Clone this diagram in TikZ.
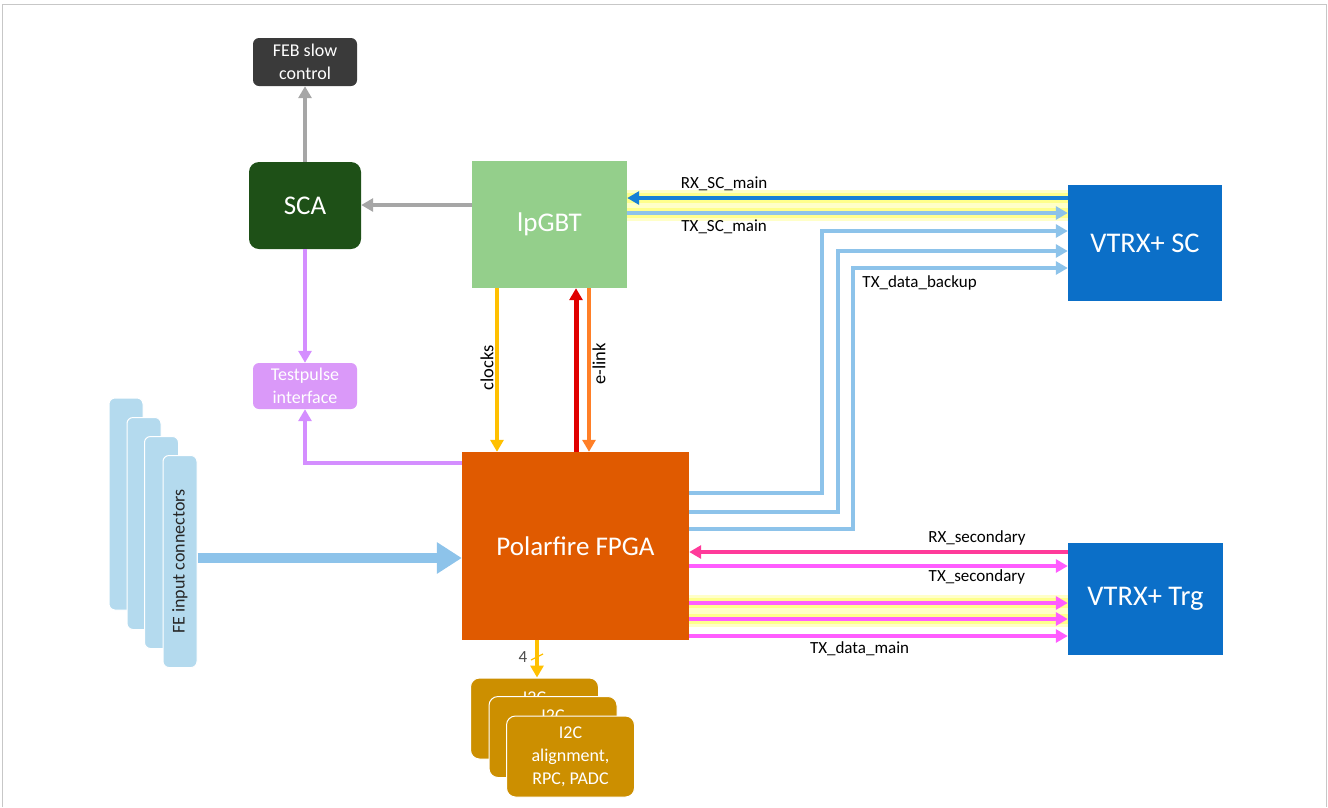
\documentclass[tikz,border=0pt]{standalone}
\usepackage{fontspec}
\setmainfont{Carlito}
\usepackage{tikz}
\usetikzlibrary{arrows.meta,positioning,calc}
\definecolor{febgray}{HTML}{3A3A3A}
\definecolor{scagreen}{HTML}{1E5017}
\definecolor{lpgreen}{HTML}{94CF8B}
\definecolor{tpbox}{HTML}{DA99F9}
\definecolor{tpline}{HTML}{D48EFF}
\definecolor{fpgaorange}{HTML}{E05A00}
\definecolor{vtrxblue}{HTML}{0B6FC8}
\definecolor{txblue}{HTML}{8DC3EA}
\definecolor{rxblue}{HTML}{1880D6}
\definecolor{rxpink}{HTML}{FF3A9A}
\definecolor{txpink}{HTML}{FF5CFF}
\definecolor{clockyellow}{HTML}{FFC000}
\definecolor{elinkorange}{HTML}{FF7F27}
\definecolor{elinkred}{HTML}{E00000}
\definecolor{i2cgold}{HTML}{CC8F00}
\definecolor{fefill}{HTML}{B4DAEE}
\definecolor{arrowgray}{HTML}{A6A6A6}
\definecolor{glowouter}{HTML}{FFFFC8}
\definecolor{glowinner}{HTML}{FFFF8C}

\begin{document}
\begin{tikzpicture}[x=1pt,y=-1pt,>={Triangle[length=12pt,width=13pt]},
  box/.style={inner sep=0pt,text=white,align=center},
  big/.style={box,font=\fontsize{27}{31}\selectfont},
  small/.style={box,font=\fontsize{18}{23}\selectfont},
  conn/.style={fill=fefill,draw=white,line width=1pt,rounded corners=6pt,minimum width=34pt,minimum height=212pt,inner sep=0pt},
  i2c/.style={small,fill=i2cgold,draw=white,line width=1pt,rounded corners=9pt,minimum width=128pt,minimum height=81pt},
  lbl/.style={inner sep=1.5pt,font=\fontsize{17}{19}\selectfont,text=black},
  vlbl/.style={lbl,font=\fontsize{18.5}{20}\selectfont},
  link/.style={line width=4pt},
  glow/.style={line width=16pt,draw=glowouter,postaction={draw=glowinner,line width=10pt}}]
  \useasboundingbox (0,0) rectangle (1328,807);
  \draw[black!22,line width=1pt] (2,807) -- (2,4) -- (1326,4) -- (1326,807);

  % blocks
  \node[small,fill=febgray,rounded corners=6pt,minimum width=104pt,minimum height=48pt] (feb) at (305,62) {FEB slow\\control};
  \node[big,fill=scagreen,rounded corners=10pt,minimum width=112pt,minimum height=87pt] (sca) at (305,205.5) {SCA};
  \node[small,fill=tpbox,rounded corners=6pt,minimum width=104pt,minimum height=46pt] (tpi) at (305,386) {Testpulse\\interface};
  \node[big,fill=lpgreen,minimum width=155pt,minimum height=127pt] (lpgbt) at (549.5,224.5) {lpGBT};
  \node[big,fill=fpgaorange,minimum width=227pt,minimum height=188pt] (fpga) at (575.5,546) {Polarfire FPGA};
  \node[big,font=\fontsize{28.5}{32}\selectfont,fill=vtrxblue,minimum width=154pt,minimum height=116pt] (vtrxsc) at (1145,243) {VTRX+ SC};
  \node[big,font=\fontsize{28.5}{32}\selectfont,fill=vtrxblue,minimum width=155pt,minimum height=112pt] (vtrxtrg) at (1145.5,599) {VTRX+ Trg};

  % FE input connectors
  \node[conn] (fe1) at (126,504) {};
  \node[conn] (fe2) at (144,523.5) {};
  \node[conn] (fe3) at (161.5,542.5) {};
  \node[conn] (fe4) at (180,561.5) {};
  \node[rotate=90,font=\fontsize{18}{20}\selectfont,text=black!85] (felbl) at (fe4) {FE input connectors};

  % I2C stack
  \node[i2c] (i2c1) at (534.5,718.5) {};
  \node[small] (i2c1t) at ($(i2c1.north)+(0,20)$) {I2C};
  \node[i2c] (i2c2) at (553,737) {};
  \node[small] (i2c2t) at ($(i2c2.north)+(0,20)$) {I2C};
  \node[i2c] (i2c3) at (570.5,756.5) {I2C\\alignment,\\RPC, PADC};

  % slow control
  \draw[->,link,arrowgray] (sca) -- (feb);
  \draw[->,link,arrowgray] (lpgbt.west |- 0,205) -- (sca.east |- 0,205);
  \draw[->,link,tpline] (sca) -- (tpi);
  \draw[->,link,tpline] (fpga.west |- 0,463) -| (tpi.south);

  % lpGBT <-> FPGA
  \draw[->,link,clockyellow] (lpgbt.south -| 497,0) -- node[vlbl,midway,rotate=90,above=2pt]{clocks} (fpga.north -| 497,0);
  \draw[->,line width=5pt,elinkred] (fpga.north -| 576,0) -- (lpgbt.south -| 576,0);
  \draw[->,link,elinkorange] (lpgbt.south -| 589,0) -- node[vlbl,pos=0.45,rotate=90,below=2pt]{e-link} (fpga.north -| 589,0);

  % links to VTRX+ SC
  \draw[glow] (lpgbt.east |- 0,198) -- (vtrxsc.west |- 0,198);
  \draw[glow] (lpgbt.east |- 0,213) -- (vtrxsc.west |- 0,213);
  \draw[->,line width=4.5pt,rxblue] (vtrxsc.west |- 0,198) -- node[lbl,pos=0.78,above=3pt]{RX\_SC\_main} (lpgbt.east |- 0,198);
  \draw[->,link,txblue] (lpgbt.east |- 0,213) -- node[lbl,pos=0.22,below=3pt]{TX\_SC\_main} (vtrxsc.west |- 0,213);
  \draw[->,link,txblue] (fpga.east |- 0,493) -| (822,231) -- (vtrxsc.west |- 0,231);
  \draw[->,link,txblue] (fpga.east |- 0,512) -| (838,251) -- (vtrxsc.west |- 0,251);
  \draw[->,link,txblue] (fpga.east |- 0,529) -| (853,268) -- node[lbl,pos=0.31,below=4pt]{TX\_data\_backup} (vtrxsc.west |- 0,268);

  % links to VTRX+ Trg
  \draw[->,link,rxpink] (vtrxtrg.west |- 0,552) -- node[lbl,pos=0.24,above=3pt]{RX\_secondary} (fpga.east |- 0,552);
  \draw[->,link,txpink] (fpga.east |- 0,566) -- node[lbl,pos=0.76,below=0pt]{TX\_secondary} (vtrxtrg.west |- 0,566);
  \draw[glow] (fpga.east |- 0,603) -- (vtrxtrg.west |- 0,603);
  \draw[glow] (fpga.east |- 0,619) -- (vtrxtrg.west |- 0,619);
  \draw[->,link,txpink] (fpga.east |- 0,603) -- (vtrxtrg.west |- 0,603);
  \draw[->,link,txpink] (fpga.east |- 0,619) -- (vtrxtrg.west |- 0,619);
  \draw[->,link,txpink] (fpga.east |- 0,636) -- node[lbl,pos=0.45,below=2pt]{TX\_data\_main} (vtrxtrg.west |- 0,636);

  % FE data into FPGA
  \draw[-{Triangle[length=25pt,width=30pt]},line width=10pt,txblue] (fe4.east |- 0,558) -- (fpga.west |- 0,558);

  % I2C bus
  \draw[->,link,clockyellow] (fpga.south -| 537,0) -- coordinate[pos=0.45] (bus) (i2c1.north -| 537,0);
  \draw[clockyellow,line width=1.2pt] ($(bus)+(-6,3)$) -- ($(bus)+(6,-3)$);
  \node[lbl,left=8pt,text=black!70] (buswidth) at (bus) {4};
\end{tikzpicture}
\end{document}
